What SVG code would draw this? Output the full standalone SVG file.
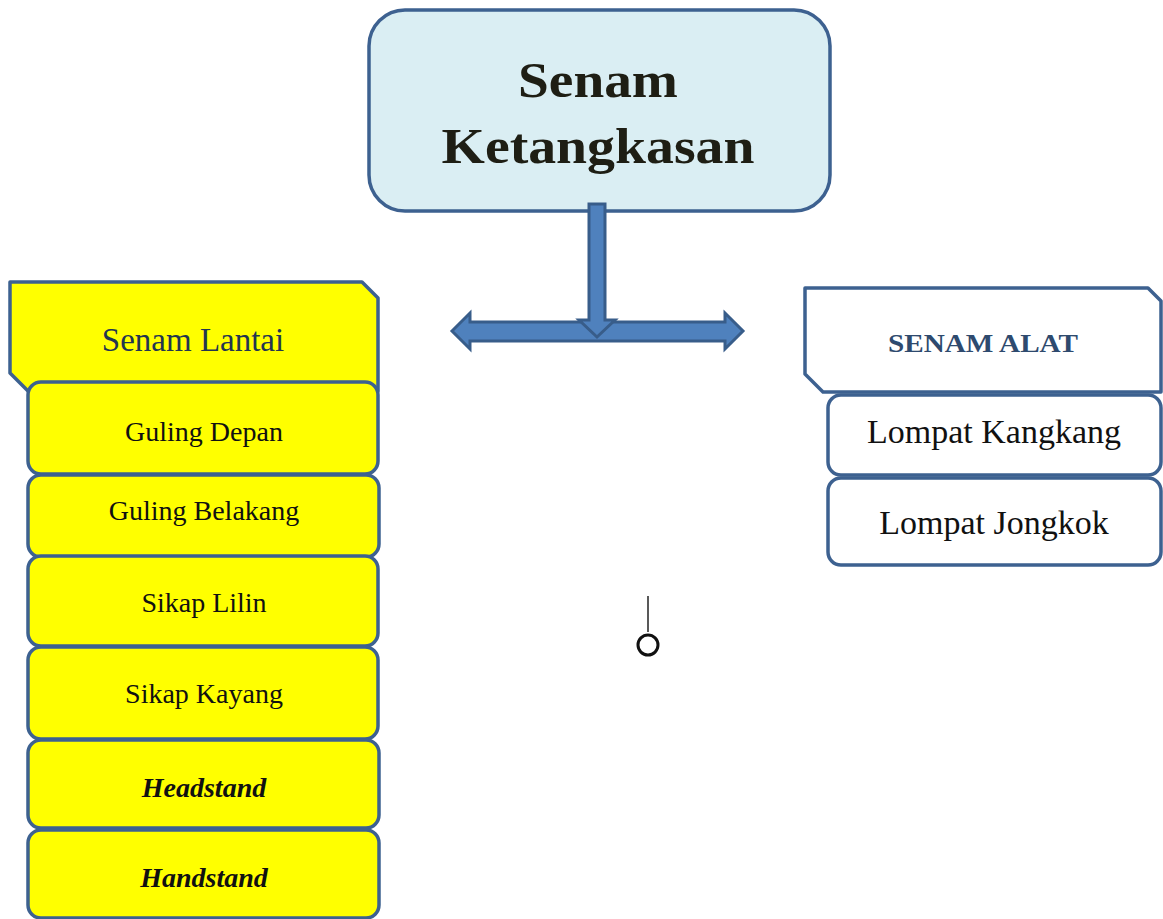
<svg xmlns="http://www.w3.org/2000/svg" width="1163" height="919" viewBox="0 0 1163 919">
<style>
.box{stroke:#3d6190;stroke-width:3.5;stroke-linejoin:round}
.yel{fill:#ffff00}
.wht{fill:#ffffff}
.t{font-family:"Liberation Serif","Times New Roman",serif;text-anchor:middle;fill:#111}
.it{font-size:28px}
.bi{font-size:28px;font-weight:bold;font-style:italic}
.arrow{fill:#4f81bd;stroke:#385d8a;stroke-width:3;stroke-linejoin:miter}
</style>
<rect width="1163" height="919" fill="#ffffff"/>

<g id="root">
<rect class="box" x="369" y="10" width="461" height="201" rx="36" fill="#daeef3"/>
<text class="t" x="598" y="97" font-size="50" font-weight="bold" style="fill:#1e1e14" textLength="160" lengthAdjust="spacingAndGlyphs">Senam</text>
<text class="t" x="598" y="163" font-size="50" font-weight="bold" style="fill:#1e1e14" textLength="313" lengthAdjust="spacingAndGlyphs">Ketangkasan</text>
</g>

<g id="connectors">
<polygon class="arrow" points="452,331 470,313 470,322 725,322 725,313 743,331 725,349 725,341 470,341 470,349"/>
<polygon class="arrow" points="589,204 605,204 605,320 615,320 597,337 579,320 589,320"/>
</g>

<g id="senam-lantai">
<path class="box yel" d="M10,282 H362 L378,298 V391 H28 L10,373 Z"/>
<text class="t" x="193" y="351" font-size="33" style="fill:#233550">Senam Lantai</text>
</g>
<g id="guling-depan">
<rect class="box yel" x="28" y="382" width="350" height="92" rx="13"/>
<text class="t it" x="204" y="441">Guling Depan</text>
</g>
<g id="guling-belakang">
<rect class="box yel" x="28" y="475" width="351" height="82" rx="13"/>
<text class="t it" x="204" y="520">Guling Belakang</text>
</g>
<g id="sikap-lilin">
<rect class="box yel" x="28" y="556" width="350" height="90" rx="13"/>
<text class="t it" x="204" y="612">Sikap Lilin</text>
</g>
<g id="sikap-kayang">
<rect class="box yel" x="28" y="647" width="350" height="92" rx="13"/>
<text class="t it" x="204" y="703">Sikap Kayang</text>
</g>
<g id="headstand">
<rect class="box yel" x="28" y="740" width="351" height="88" rx="13"/>
<text class="t bi" x="204" y="797">Headstand</text>
</g>
<g id="handstand">
<rect class="box yel" x="28" y="830" width="351" height="88" rx="13"/>
<text class="t bi" x="204" y="887">Handstand</text>
</g>

<g id="senam-alat">
<path class="box wht" d="M805,288 H1148 L1161,301 V392 H823 L805,374 Z"/>
<text class="t" x="983" y="352" font-size="26" font-weight="bold" style="fill:#2e4a6e" textLength="190" lengthAdjust="spacingAndGlyphs">SENAM ALAT</text>
</g>
<g id="lompat-kangkang">
<rect class="box wht" x="828" y="395" width="333" height="80" rx="13"/>
<text class="t" x="994" y="443" font-size="34">Lompat Kangkang</text>
</g>
<g id="lompat-jongkok">
<rect class="box wht" x="828" y="478" width="333" height="87" rx="13"/>
<text class="t" x="994" y="534" font-size="34">Lompat Jongkok</text>
</g>

<g id="mark">
<line x1="648" y1="596" x2="648" y2="632" stroke="#222" stroke-width="1.5"/>
<circle cx="648" cy="645" r="10" fill="none" stroke="#111" stroke-width="3"/>
</g>
</svg>
